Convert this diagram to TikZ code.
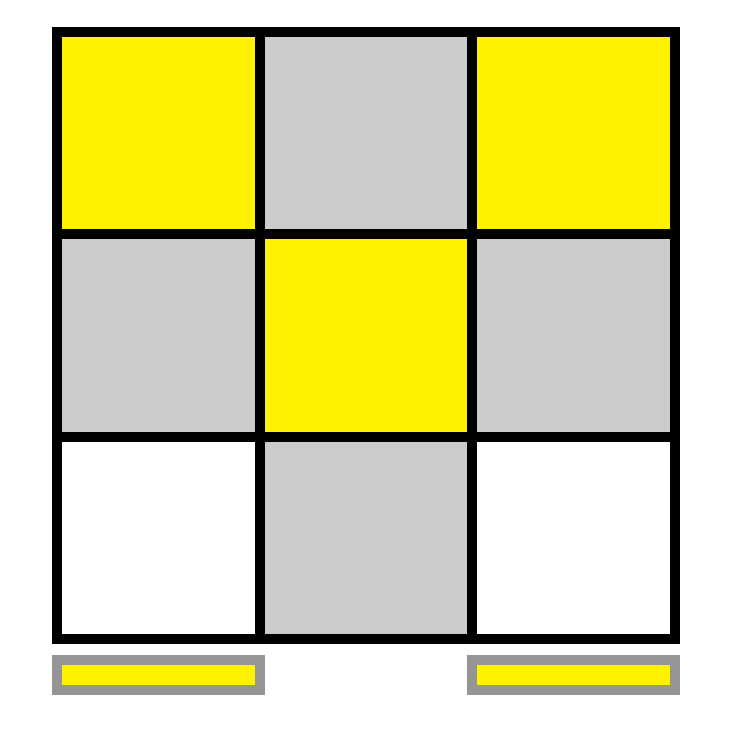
\documentclass[tikz,border=0pt]{standalone}
\usepackage{xcolor}
\definecolor{cellyellow}{HTML}{FFF200}
\definecolor{cellgray}{HTML}{CBCBCB}
\definecolor{bargray}{HTML}{959595}
\tikzset{
  gridline/.style={line width=0.2cm, color=black},
  barbox/.style={line width=0.2cm, draw=bargray, fill=cellyellow}
}
\begin{document}
\begin{tikzpicture}[x=0.02cm, y=-0.02cm]
\useasboundingbox (0,0) rectangle (733,734);
\coordinate (TL) at (57,31.5);
\coordinate (BR) at (675,638.5);
% top row
\fill[cellyellow] (57,31.5) rectangle (259.5,234);
\fill[cellgray] (259.5,31.5) rectangle (472,234);
\fill[cellyellow] (472,31.5) rectangle (675,234);
% middle row
\fill[cellgray] (57,234) rectangle (259.5,437);
\fill[cellyellow] (259.5,234) rectangle (472,437);
\fill[cellgray] (472,234) rectangle (675,437);
% bottom row
\fill[cellgray] (259.5,437) rectangle (472,638.5);
\foreach \x in {259.5,472} {\draw[gridline] (\x,31.5) -- (\x,638.5);}
\foreach \y in {234,437} {\draw[gridline] (57,\y) -- (675,\y);}
\draw[gridline] (TL) rectangle (BR);
% bars below
\draw[barbox] (57,660) rectangle (259.5,690);
\draw[barbox] (472,660) rectangle (675,690);
\end{tikzpicture}
\end{document}
